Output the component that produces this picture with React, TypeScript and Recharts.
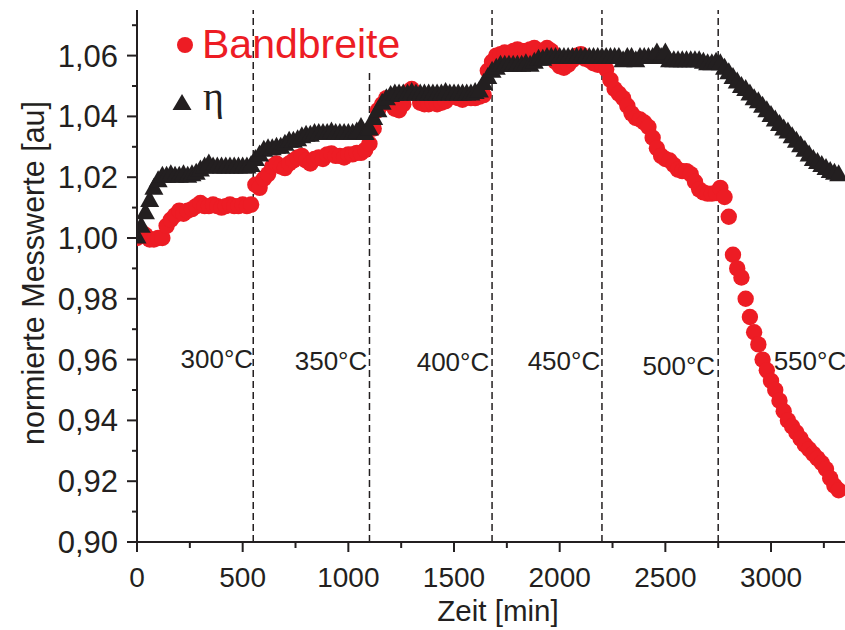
import {
  ScatterChart,
  Scatter,
  XAxis,
  YAxis,
  ReferenceLine,
  ReferenceDot,
  Legend
} from "recharts";

const SCHWARZ = "#231f20";
const ROT = "#ed1c24";
const SCHRIFT = '"Liberation Sans", Arial, Helvetica, sans-serif';

// Minuten zwischen zwei Messpunkten
const MESSINTERVALL = 20;

// normierte Bandbreite, ab t = 0 im Messintervall
const bandbreite = [
  1.0, 1.002, 1.001, 0.9995, 0.9995, 1.0, 1.0, 1.004, 1.006, 1.0075,
  1.009, 1.008, 1.009, 1.0095, 1.0105, 1.0115, 1.0105, 1.0105, 1.011, 1.0105,
  1.01, 1.0105, 1.011, 1.0105, 1.0105, 1.011, 1.0105, 1.011, 1.0175, 1.0165,
  1.0195, 1.021, 1.0235, 1.0245, 1.0235, 1.023, 1.0245, 1.0255, 1.0265, 1.027,
  1.0255, 1.0245, 1.026, 1.0265, 1.026, 1.0275, 1.0278, 1.027, 1.027, 1.0265,
  1.0275, 1.0275, 1.028, 1.028, 1.029, 1.031, 1.036, 1.042, 1.044, 1.046,
  1.045, 1.0425, 1.042, 1.044, 1.048, 1.049, 1.0475, 1.0445, 1.044, 1.044,
  1.0445, 1.044, 1.0445, 1.045, 1.0465, 1.0465, 1.046, 1.0455, 1.0465, 1.046,
  1.046, 1.0465, 1.047, 1.055, 1.058, 1.06, 1.0605, 1.061, 1.0605, 1.0615,
  1.062, 1.0615, 1.0615, 1.062, 1.0625, 1.0615, 1.0605, 1.0625, 1.0615, 1.058,
  1.0565, 1.056, 1.057, 1.0585, 1.06, 1.0605, 1.059, 1.0585, 1.0575, 1.057,
  1.057, 1.0555, 1.052, 1.049, 1.0475, 1.046, 1.0435, 1.041, 1.0395, 1.039,
  1.038, 1.0365, 1.033, 1.0295, 1.027, 1.026, 1.0255, 1.024, 1.0225, 1.022,
  1.022, 1.021, 1.0185, 1.016, 1.015, 1.0146, 1.0146, 1.0148, 1.0165, 1.0135,
  1.007, 0.9945, 0.99, 0.987, 0.98, 0.974, 0.969, 0.965, 0.96, 0.9565,
  0.953, 0.95, 0.9465, 0.943, 0.94, 0.938, 0.936, 0.934, 0.932, 0.9305,
  0.929, 0.9275, 0.926, 0.924, 0.921, 0.9185, 0.917
];

// normierter Wirkungsgrad eta, gleiche Zeitpunkte
const eta = [
  1.0005, 1.004, 1.0085, 1.0125, 1.0165, 1.019, 1.0205, 1.0205, 1.021, 1.0205,
  1.0205, 1.021, 1.0205, 1.021, 1.0215, 1.0225, 1.0235, 1.0245, 1.0235, 1.0235,
  1.0235, 1.0235, 1.0235, 1.0235, 1.0235, 1.0235, 1.0235, 1.024, 1.026, 1.0275,
  1.029, 1.0295, 1.0295, 1.03, 1.03, 1.031, 1.032, 1.032, 1.0325, 1.0335,
  1.034, 1.034, 1.0345, 1.0345, 1.0345, 1.0345, 1.035, 1.0345, 1.0345, 1.0345,
  1.0345, 1.0345, 1.035, 1.0365, 1.0345, 1.036, 1.0395, 1.042, 1.0445, 1.046,
  1.047, 1.0475, 1.0475, 1.0475, 1.0475, 1.048, 1.0475, 1.0475, 1.0475, 1.0475,
  1.0475, 1.0475, 1.0475, 1.048, 1.0475, 1.0475, 1.0475, 1.0475, 1.0475, 1.0475,
  1.048, 1.0485, 1.051, 1.053, 1.055, 1.056, 1.057, 1.057, 1.057, 1.057,
  1.057, 1.057, 1.0575, 1.057, 1.058, 1.059, 1.059, 1.0595, 1.0595, 1.0595,
  1.0595, 1.0595, 1.0595, 1.0595, 1.0595, 1.0595, 1.0595, 1.0595, 1.0595, 1.0595,
  1.0595, 1.0595, 1.0595, 1.0595, 1.0595, 1.0585, 1.0595, 1.0595, 1.0585, 1.0595,
  1.0595, 1.0595, 1.0595, 1.061, 1.0595, 1.061, 1.0585, 1.0585, 1.0585, 1.0585,
  1.0585, 1.0585, 1.0585, 1.0585, 1.058, 1.0575, 1.0575, 1.058, 1.0575, 1.056,
  1.0545, 1.053, 1.0515, 1.05, 1.049, 1.0475, 1.046, 1.045, 1.0435, 1.042,
  1.0405, 1.039, 1.0375, 1.036, 1.035, 1.0335, 1.032, 1.0305, 1.029, 1.0275,
  1.026, 1.025, 1.024, 1.023, 1.022, 1.0215, 1.021
];

const zeitTicks = [
  0, 250, 500, 750, 1000, 1250, 1500, 1750, 2000, 2250, 2500, 2750, 3000, 3250
];
const wertTicks = [
  0.9, 0.91, 0.92, 0.93, 0.94, 0.95, 0.96, 0.97, 0.98, 0.99, 1.0, 1.01, 1.02,
  1.03, 1.04, 1.05, 1.06, 1.07
];

// Zeitpunkte der Temperaturwechsel
const stufenGrenzen = [550, 1100, 1680, 2200, 2750];
const stufenTemperaturen = ["300°C", "350°C", "400°C", "450°C", "500°C", "550°C"];
const stufenLabelZeit = [378, 918, 1495, 2020, 2564, 3184];
const stufenLabelWert = [0.9571, 0.9565, 0.9562, 0.9565, 0.9548, 0.9565];

const bandbreitePunkte = bandbreite.map((wert, i) => ({ zeit: i * MESSINTERVALL, wert }));
const etaPunkte = eta.map((wert, i) => ({ zeit: i * MESSINTERVALL, wert }));

function Kreis({ cx, cy }: any) {
  return <circle cx={cx} cy={cy} r={8.2} fill={ROT} />;
}

function Dreieck({ cx, cy }: any) {
  return (
    <polygon
      points={`${cx},${cy - 10} ${cx + 9.5},${cy + 7} ${cx - 9.5},${cy + 7}`}
      fill={SCHWARZ}
    />
  );
}

function ZeitTick({ x, y, payload }: any) {
  const major = payload.value % 500 === 0;
  return (
    <g>
      <line x1={x} x2={x} y1={y} y2={y + (major ? 10 : 6)} stroke={SCHWARZ} strokeWidth={2} />
      {major && (
        <text x={x} y={y + 45} textAnchor="middle" fontSize={28} fontFamily={SCHRIFT} fill={SCHWARZ}>
          {payload.value}
        </text>
      )}
    </g>
  );
}

function ObenTick({ x, y, payload }: any) {
  const major = payload.value % 500 === 0;
  return <line x1={x} x2={x} y1={y} y2={y + (major ? 12 : 6)} stroke={SCHWARZ} strokeWidth={2} />;
}

function WertTick({ x, y, payload }: any) {
  const major = Math.round(payload.value * 100) % 2 === 0;
  return (
    <g>
      <line x1={x} x2={x - (major ? 10 : 5)} y1={y} y2={y} stroke={SCHWARZ} strokeWidth={2} />
      {major && (
        <text x={x - 19} y={y + 11} textAnchor="end" fontSize={31} fontFamily={SCHRIFT} fill={SCHWARZ}>
          {payload.value.toFixed(2).replace(".", ",")}
        </text>
      )}
    </g>
  );
}

function XTitel({ viewBox }: any) {
  return (
    <text x={viewBox.x + 361} y={viewBox.y + 79} textAnchor="middle" fontSize={29.5} fontFamily={SCHRIFT} fill={SCHWARZ}>
      Zeit [min]
    </text>
  );
}

function YTitel({ viewBox }: any) {
  const cx = viewBox.x + 33;
  const cy = viewBox.y + 263;
  return (
    <text
      x={cx}
      y={cy}
      transform={`rotate(-90, ${cx}, ${cy})`}
      textAnchor="middle"
      dominantBaseline="central"
      fontSize={30.5}
      fontFamily={SCHRIFT}
      fill={SCHWARZ}
    >
      normierte Messwerte [au]
    </text>
  );
}

function Legende() {
  return (
    <svg width={250} height={110}>
      <circle cx={15} cy={25} r={8} fill={ROT} />
      <text x={32} y={38} fill={ROT} fontSize={41} fontFamily={SCHRIFT}>
        Bandbreite
      </text>
      <polygon points="12,74 21.5,90 2.5,90" fill={SCHWARZ} />
      <text x={33} y={90} fill={SCHWARZ} fontSize={40} fontFamily='"Liberation Serif", serif'>
        η
      </text>
    </svg>
  );
}

export default function App() {
  return (
    <div style={{ position: "absolute", left: 0, top: 0, width: 845, height: 630, background: "#fff" }}>
      <ScatterChart width={845} height={630} margin={{ top: 10, right: 0, bottom: 0, left: 0 }}>
        <XAxis
          dataKey="zeit"
          type="number"
          domain={[0, 3350]}
          ticks={zeitTicks}
          interval={0}
          tickSize={0}
          tickMargin={0}
          tickLine={false}
          tick={ZeitTick}
          height={88}
          axisLine={{ stroke: SCHWARZ, strokeWidth: 2 }}
          allowDataOverflow
          label={XTitel}
        />
        <XAxis
          xAxisId="oben"
          orientation="top"
          type="number"
          domain={[0, 3350]}
          ticks={zeitTicks}
          interval={0}
          tickSize={0}
          tickMargin={0}
          tickLine={false}
          tick={ObenTick}
          height={0}
          axisLine={{ stroke: SCHWARZ, strokeWidth: 2 }}
          allowDataOverflow
        />
        <YAxis
          dataKey="wert"
          type="number"
          domain={[0.9, 1.075]}
          ticks={wertTicks}
          interval={0}
          tickSize={0}
          tickMargin={0}
          tickLine={false}
          tick={WertTick}
          width={137}
          axisLine={{ stroke: SCHWARZ, strokeWidth: 2 }}
          allowDataOverflow
          label={YTitel}
        />
        {stufenGrenzen.map((t) =>
          t === 1100 ? (
            <ReferenceLine
              key={t}
              segment={[{ x: t, y: 0.9 }, { x: t, y: 1.0555 }]}
              stroke={SCHWARZ}
              strokeWidth={1.5}
              strokeDasharray="7 4"
            />
          ) : (
            <ReferenceLine key={t} x={t} stroke={SCHWARZ} strokeWidth={1.5} strokeDasharray="7 4" />
          )
        )}
        {stufenTemperaturen.map((txt, i) => (
          <ReferenceDot
            key={txt}
            x={stufenLabelZeit[i]}
            y={stufenLabelWert[i]}
            r={0}
            shape={({ cx, cy }: any) => (
              <text x={cx} y={cy} textAnchor="middle" fontSize={26} fontFamily={SCHRIFT} fill={SCHWARZ}>
                {txt}
              </text>
            )}
          />
        ))}
        <Scatter name="Bandbreite" data={bandbreitePunkte} shape={Kreis} isAnimationActive={false} />
        <Scatter name="η" data={etaPunkte} shape={Dreieck} isAnimationActive={false} />
        <Legend
          layout="horizontal"
          verticalAlign="middle"
          align="center"
          wrapperStyle={{ left: 170, top: 20, width: 250, height: 110 }}
          content={Legende}
        />
      </ScatterChart>
    </div>
  );
}
